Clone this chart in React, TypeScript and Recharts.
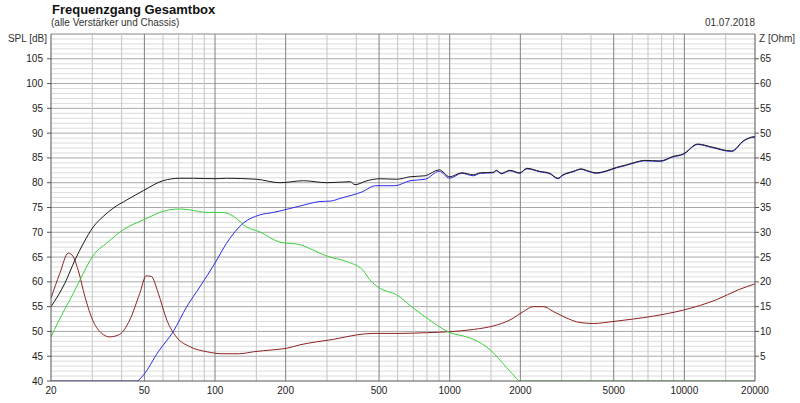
import { LineChart, Line, XAxis, YAxis, ReferenceLine } from "recharts";

const blackFreq = [20, 22.9, 25.3, 27.5, 30.3, 33.4, 36.9, 42, 49.5, 60, 71, 81, 100, 112, 150, 189, 238, 300, 377, 395, 444, 504, 594, 678, 786, 902, 1000, 1126, 1262, 1350, 1532, 1580, 1660, 1804, 1990, 2130, 2420, 2670, 2890, 3040, 3360, 3640, 3820, 4220, 4650, 5140, 5660, 6140, 6780, 7890, 8940, 9880, 11400, 13100, 15900, 17900, 19300, 20000];
const blackSpl = [55.0, 59.7, 64.4, 67.8, 71.1, 73.2, 74.9, 76.5, 78.4, 80.4, 80.9, 80.9, 80.8, 80.9, 80.7, 80.0, 80.4, 80.0, 80.2, 79.6, 80.4, 80.8, 80.7, 81.2, 81.4, 82.6, 81.2, 82.0, 81.6, 82.0, 82.1, 82.5, 81.9, 82.5, 82.0, 82.9, 82.3, 81.9, 80.9, 81.6, 82.3, 82.8, 82.5, 82.0, 82.4, 83.1, 83.6, 84.1, 84.5, 84.4, 85.3, 85.8, 87.8, 87.2, 86.4, 88.5, 89.2, 89.3];

const blueFreq = [20, 46.4, 49.5, 57.3, 66.4, 75.8, 86.2, 100, 112, 131.6, 155, 177, 189, 230, 280, 311, 345, 426, 482, 584, 678, 786, 902, 1000, 1126, 1262, 1350, 1532, 1580, 1660, 1804, 1990, 2130, 2420, 2670, 2890, 3040, 3360, 3640, 3820, 4220, 4650, 5140, 5660, 6140, 6780, 7890, 8940, 9880, 11400, 13100, 15900, 17900, 19300, 20000];
const blueSpl = [40, 40, 41.2, 45.9, 50.0, 55.0, 59.0, 63.8, 67.8, 71.8, 73.5, 74.0, 74.3, 75.3, 76.2, 76.3, 76.9, 78.2, 79.4, 79.4, 80.4, 80.7, 82.3, 80.9, 81.9, 81.4, 81.9, 82.0, 82.4, 81.8, 82.4, 81.9, 82.8, 82.2, 81.8, 80.8, 81.5, 82.2, 82.7, 82.4, 81.9, 82.3, 83.0, 83.5, 84.0, 84.4, 84.3, 85.2, 85.7, 87.7, 87.1, 86.3, 88.4, 89.1, 89.2];

const greenFreq = [20, 22.9, 24.1, 25.7, 30.8, 34.5, 40.6, 49.5, 63.3, 70.8, 78.3, 92.3, 108, 120, 136, 155, 189, 230, 262, 300, 363, 426, 457, 504, 594, 700, 822, 960, 1000, 1180, 1262, 1486, 1640, 1870, 1990, 20000];
const greenSpl = [48.9, 54.5, 56.4, 59.0, 65.8, 67.8, 70.5, 72.5, 74.5, 74.7, 74.5, 74.0, 74.0, 73.2, 71.1, 70.1, 68.0, 67.5, 66.4, 65.2, 64.1, 62.4, 60.4, 58.7, 57.4, 54.7, 52.3, 50.2, 49.8, 48.9, 48.4, 46.3, 44.2, 41.2, 40, 40];

// Impedanz (Ohm), rechte Achse
const zFreq = [20, 21.8, 23.7, 24.6, 26.1, 27.9, 30.3, 32.9, 35.6, 39.2, 43.3, 47.8, 50.9, 53.5, 57.3, 62.3, 68.4, 78.3, 92.3, 108, 127, 146, 177, 202, 230, 271, 320, 401, 471, 614, 796, 1000, 1262, 1532, 1804, 2060, 2270, 2510, 2770, 3150, 3590, 4100, 4970, 6060, 7400, 9880, 13700, 17000, 20000];
const zOhm = [16.7, 21.7, 25.8, 25.4, 22.4, 17.0, 12.0, 9.6, 8.9, 9.4, 12.3, 17.7, 21.2, 21.1, 17.7, 12.3, 8.9, 6.9, 5.9, 5.5, 5.5, 5.9, 6.3, 6.6, 7.3, 7.9, 8.4, 9.3, 9.6, 9.6, 9.75, 9.95, 10.4, 11.1, 12.3, 14.0, 15.0, 15.0, 14.0, 12.7, 11.8, 11.6, 12.0, 12.5, 13.1, 14.3, 16.4, 18.4, 19.6];

const xTicks = [20, 50, 100, 200, 500, 1000, 2000, 5000, 10000, 20000];
const xMinorGrid = [30, 40, 60, 70, 80, 90, 150, 300, 400, 600, 700, 800, 900, 1500, 3000, 4000, 6000, 7000, 8000, 9000, 15000];
const splTicks = [40, 45, 50, 55, 60, 65, 70, 75, 80, 85, 90, 95, 100, 105];
const zTicks = [5, 10, 15, 20, 25, 30, 35, 40, 45, 50, 55, 60, 65];
const splMinorGrid = [41, 42, 43, 44, 46, 47, 48, 49, 51, 52, 53, 54, 56, 57, 58, 59, 61, 62, 63, 64, 66, 67, 68, 69, 71, 72, 73, 74, 76, 77, 78, 79, 81, 82, 83, 84, 86, 87, 88, 89, 91, 92, 93, 94, 96, 97, 98, 99, 101, 102, 103, 104, 106, 107, 108, 109];

const toRows = (fs: number[], vs: number[]) => fs.map((f, i) => ({ f, v: vs[i] }));

const FONT = "'Liberation Sans', Arial, sans-serif";
const tickStyle = { fontSize: 10, fill: "#222", fontFamily: FONT };

export default function App() {
  return (
    <div style={{ position: "absolute", left: 0, top: 0, width: 800, height: 403, background: "#fff", fontFamily: FONT }}>
      <div style={{ position: "absolute", left: 52, top: 2.5, fontSize: 13, lineHeight: "13px", fontWeight: 700, color: "#111" }}>
        Frequenzgang Gesamtbox
      </div>
      <div style={{ position: "absolute", left: 51, top: 18, fontSize: 10, lineHeight: "10px", color: "#333" }}>
        (alle Verstärker und Chassis)
      </div>
      <div style={{ position: "absolute", right: 45, top: 18, fontSize: 10, lineHeight: "10px", color: "#333" }}>
        01.07.2018
      </div>
      <div style={{ position: "absolute", right: 753, top: 34, fontSize: 10, lineHeight: "10px", color: "#333", whiteSpace: "nowrap" }}>
        SPL [dB]
      </div>
      <div style={{ position: "absolute", left: 759, top: 34, fontSize: 10, lineHeight: "10px", color: "#333", whiteSpace: "nowrap" }}>
        Z [Ohm]
      </div>
      <LineChart width={800} height={403} margin={{ top: 34, right: 0, bottom: 0, left: 0 }}>
        <XAxis
          dataKey="f"
          type="number"
          scale="log"
          domain={[20, 20000]}
          allowDataOverflow
          ticks={xTicks}
          interval={0}
          height={22}
          tickLine={false}
          tickSize={4}
          tickMargin={2}
          axisLine={{ stroke: "#555" }}
          tick={tickStyle}
        />
        <YAxis
          yAxisId="spl"
          orientation="left"
          domain={[40, 110]}
          allowDataOverflow
          ticks={splTicks}
          interval={0}
          width={51}
          tickSize={4}
          tickMargin={4}
          tickLine={{ stroke: "#555" }}
          axisLine={{ stroke: "#555" }}
          tick={tickStyle}
        />
        <YAxis
          yAxisId="z"
          orientation="right"
          domain={[0, 70]}
          allowDataOverflow
          ticks={zTicks}
          interval={0}
          width={45}
          tickSize={4}
          tickMargin={1}
          tickLine={{ stroke: "#555" }}
          axisLine={{ stroke: "#555" }}
          tick={{ ...tickStyle, textAnchor: "start" }}
        />

        {splMinorGrid.map((v) => (
          <ReferenceLine key={`hm${v}`} yAxisId="spl" y={v} stroke="#dcdcdc" strokeWidth={1} />
        ))}
        {splTicks.slice(1).map((v) => (
          <ReferenceLine key={`hM${v}`} yAxisId="spl" y={v} stroke="#a8a8a8" strokeWidth={1} />
        ))}
        <ReferenceLine yAxisId="spl" y={110} stroke="#888" />
        {xMinorGrid.map((f) => (
          <ReferenceLine key={`vm${f}`} yAxisId="spl" x={f} stroke="#c4c4c4" strokeWidth={1} />
        ))}
        {xTicks.slice(1, -1).map((f) => (
          <ReferenceLine key={`vM${f}`} yAxisId="spl" x={f} stroke="#808080" strokeWidth={1} />
        ))}

        <Line yAxisId="z" data={toRows(zFreq, zOhm)} dataKey="v" type="monotone" stroke="#8c2323" strokeWidth={1} dot={false} activeDot={false} isAnimationActive={false} />
        <Line yAxisId="spl" data={toRows(greenFreq, greenSpl)} dataKey="v" type="monotone" stroke="#3ccf3c" strokeWidth={1} dot={false} activeDot={false} isAnimationActive={false} />
        <Line yAxisId="spl" data={toRows(blueFreq, blueSpl)} dataKey="v" type="monotone" stroke="#2a2ae8" strokeWidth={1} dot={false} activeDot={false} isAnimationActive={false} />
        <Line yAxisId="spl" data={toRows(blackFreq, blackSpl)} dataKey="v" type="monotone" stroke="#1a1a1a" strokeWidth={1} dot={false} activeDot={false} isAnimationActive={false} />
      </LineChart>
    </div>
  );
}
